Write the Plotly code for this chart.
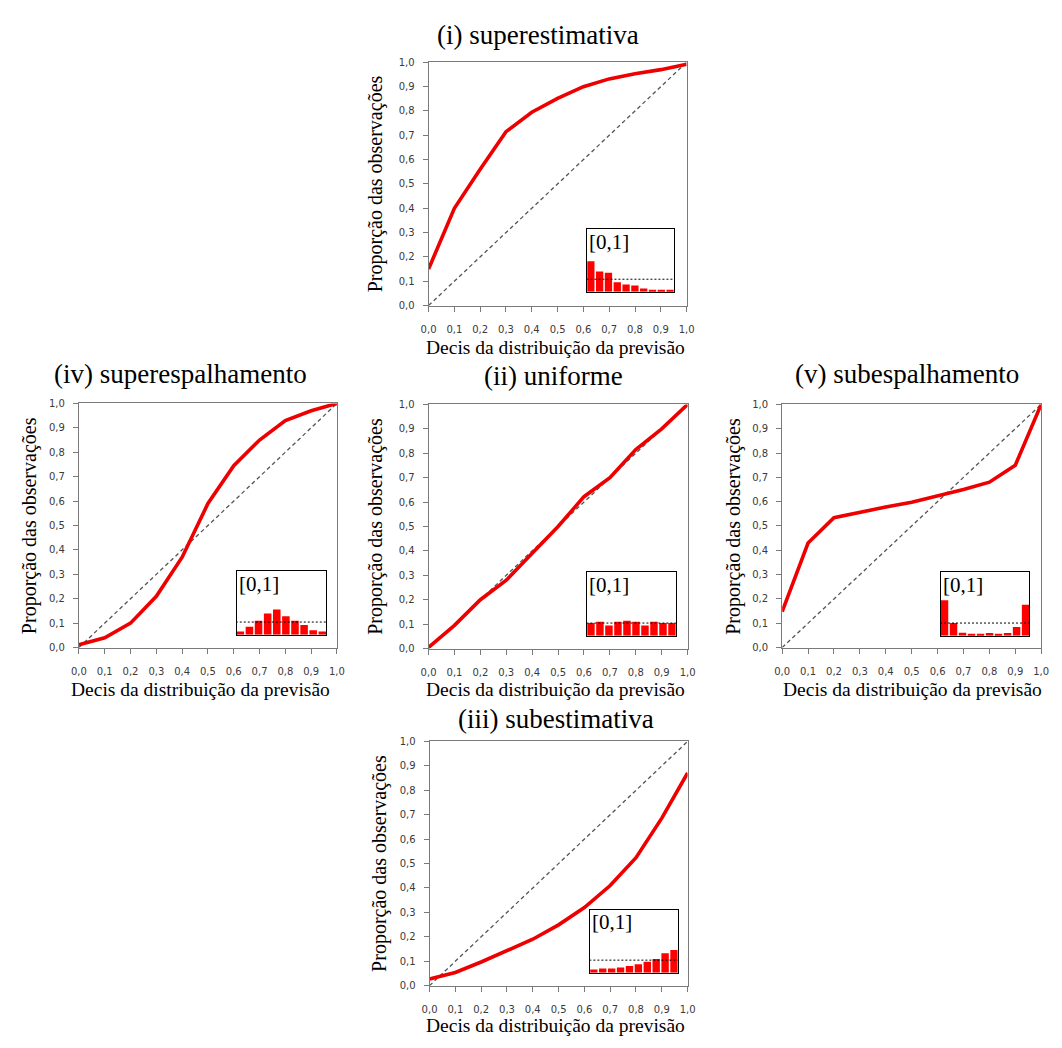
import plotly.graph_objects as go

W, H = 1062, 1048

# ---------------- data ----------------
deciles = [0.0, 0.1, 0.2, 0.3, 0.4, 0.5, 0.6, 0.7, 0.8, 0.9, 1.0]
bins = [1, 2, 3, 4, 5, 6, 7, 8, 9, 10]

panel_keys = ["i", "iv", "ii", "v", "iii"]
panel_titles = {
    "i": "(i) superestimativa",
    "iv": "(iv) superespalhamento",
    "ii": "(ii) uniforme",
    "v": "(v) subespalhamento",
    "iii": "(iii) subestimativa",
}

obs_i = [0.15, 0.40, 0.56, 0.715, 0.795, 0.852, 0.90, 0.932, 0.953, 0.97, 0.992]
obs_iv = [0.012, 0.04, 0.10, 0.21, 0.37, 0.59, 0.745, 0.85, 0.93, 0.97, 1.0]
obs_ii = [0.005, 0.095, 0.20, 0.28, 0.39, 0.50, 0.622, 0.70, 0.815, 0.90, 1.0]
obs_v = [0.148, 0.43, 0.534, 0.557, 0.578, 0.598, 0.624, 0.65, 0.68, 0.75, 1.0]
obs_iii = [0.027, 0.054, 0.097, 0.143, 0.19, 0.249, 0.32, 0.41, 0.524, 0.686, 0.871]

hist_i = [0.245, 0.163, 0.153, 0.076, 0.058, 0.05, 0.026, 0.016, 0.016, 0.016]
hist_iv = [0.025, 0.062, 0.11, 0.168, 0.20, 0.145, 0.11, 0.076, 0.035, 0.025]
hist_ii = [0.10, 0.11, 0.08, 0.11, 0.118, 0.11, 0.08, 0.11, 0.10, 0.10]
hist_v = [0.28, 0.10, 0.024, 0.015, 0.015, 0.022, 0.015, 0.022, 0.068, 0.245]
hist_iii = [0.026, 0.034, 0.034, 0.042, 0.053, 0.068, 0.087, 0.11, 0.155, 0.18]

inset_label = "[0,1]"
x_title = "Decis da distribuição da previsão"
y_title = "Proporção das observações"

obs = {"i": obs_i, "iv": obs_iv, "ii": obs_ii, "v": obs_v, "iii": obs_iii}
hist = {"i": hist_i, "iv": hist_iv, "ii": hist_ii, "v": hist_v, "iii": hist_iii}

# ---------------- layout geometry (pixels) ----------------
main_box = {
    "i": (427, 689, 57, 303),
    "iv": (72, 334, 402, 649),
    "ii": (427, 690, 403, 650),
    "v": (786, 1049, 403, 649),
    "iii": (428, 690, 744, 991),
}
inset_box = {
    "i": (588, 676, 226, 289),
    "iv": (232, 323, 572, 636),
    "ii": (588, 678, 573, 637),
    "v": (947, 1037, 573, 637),
    "iii": (591, 680, 914, 978),
}
title_pos = {"i": (538, 29), "iv": (175, 372), "ii": (554, 374), "v": (913, 372), "iii": (556, 721)}
xtitle_pos = {"i": (556, 345), "iv": (195, 691), "ii": (556, 691), "v": (918, 691), "iii": (556, 1031)}
ytitle_x = {"i": 374, "iv": 22, "ii": 373, "v": 737, "iii": 377}

SERIF = "Liberation Serif, Times New Roman, serif"
SANS = "DejaVu Sans, Verdana, sans-serif"
RED = "#ee0000"
AXC = "#7a7a7a"


def xd(x0, x1):
    return [x0 / W, x1 / W]


def yd(y0, y1):
    return [1 - y1 / H, 1 - y0 / H]


fig = go.Figure()
layout = {}
annotations = []

for i, k in enumerate(panel_keys):
    m = 2 * i + 1
    n = 2 * i + 2
    xa_m = "x" if m == 1 else f"x{m}"
    ya_m = "y" if m == 1 else f"y{m}"
    xa_n, ya_n = f"x{n}", f"y{n}"

    # diagonal reference
    fig.add_trace(go.Scatter(x=[deciles[0], deciles[-1]], y=[deciles[0], deciles[-1]],
                             mode="lines", xaxis=xa_m, yaxis=ya_m, showlegend=False,
                             line=dict(color="#555555", width=1.3, dash="4px,3px")))
    # observed curve
    fig.add_trace(go.Scatter(x=deciles, y=obs[k], mode="lines", xaxis=xa_m, yaxis=ya_m,
                             showlegend=False, line=dict(color=RED, width=3.6)))
    # inset histogram
    fig.add_trace(go.Bar(x=bins, y=hist[k], xaxis=xa_n, yaxis=ya_n, showlegend=False,
                         marker=dict(color="#ff0000", line=dict(width=0))))
    fig.add_trace(go.Scatter(x=[bins[0] - 0.5, bins[-1] + 0.5], y=[1 / len(bins)] * 2,
                             mode="lines", xaxis=xa_n, yaxis=ya_n, showlegend=False,
                             line=dict(color="#000000", width=1, dash="2px,2px")))

    x0, x1, y0, y1 = main_box[k]
    layout["xaxis" if m == 1 else f"xaxis{m}"] = dict(
        domain=xd(x0, x1), anchor=ya_m, range=[0, 1], tickvals=deciles, tickformat=".1f",
        showgrid=False, zeroline=False, showline=True, mirror=True, linecolor=AXC, linewidth=1,
        ticks="outside", ticklen=5, tickcolor=AXC, ticklabelstandoff=9,
        tickfont=dict(family=SANS, size=10, color="#3a3a3a"))
    layout["yaxis" if m == 1 else f"yaxis{m}"] = dict(
        domain=yd(y0, y1), anchor=xa_m, range=[0, 1], tickvals=deciles, tickformat=".1f",
        showgrid=False, zeroline=False, showline=True, mirror=True, linecolor=AXC, linewidth=1,
        ticks="outside", ticklen=5, tickcolor=AXC, ticklabelstandoff=6,
        tickfont=dict(family=SANS, size=10, color="#3a3a3a"))

    ix0, ix1, iy0, iy1 = inset_box[k]
    layout[f"xaxis{n}"] = dict(
        domain=xd(ix0, ix1), anchor=ya_n, range=[bins[0] - 0.42, bins[-1] + 0.42],
        showgrid=False, zeroline=False, showticklabels=False, ticks="",
        showline=True, mirror=True, linecolor="#000000", linewidth=1)
    layout[f"yaxis{n}"] = dict(
        domain=yd(iy0, iy1), anchor=xa_n, range=[0, 0.5],
        showgrid=False, zeroline=False, showticklabels=False, ticks="",
        showline=True, mirror=True, linecolor="#000000", linewidth=1)

    # inset label
    annotations.append(dict(text=inset_label, xref=f"x{n} domain", yref=f"y{n} domain",
                            x=0.0, y=1.02, xanchor="left", yanchor="top", showarrow=False,
                            font=dict(family=SERIF, size=21, color="#000000")))
    # panel title
    tx, ty = title_pos[k]
    annotations.append(dict(text=panel_titles[k], xref="paper", yref="paper", x=tx / W, y=1 - ty / H,
                            xanchor="center", yanchor="middle", showarrow=False,
                            font=dict(family=SERIF, size=27, color="#000000")))
    # x title
    ax, ay = xtitle_pos[k]
    annotations.append(dict(text=x_title, xref="paper", yref="paper", x=ax / W, y=1 - ay / H,
                            xanchor="center", yanchor="middle", showarrow=False,
                            font=dict(family=SERIF, size=19.5, color="#000000")))
    # y title
    annotations.append(dict(text=y_title, xref="paper", yref="paper", x=ytitle_x[k] / W,
                            y=1 - ((y0 + y1) / 2) / H, xanchor="center", yanchor="middle",
                            textangle=-90, showarrow=False,
                            font=dict(family=SERIF, size=20, color="#000000")))

fig.update_layout(
    width=W, height=H, margin=dict(l=0, r=0, t=0, b=0),
    paper_bgcolor="white", plot_bgcolor="white",
    separators=",.", bargap=0.17, showlegend=False,
    annotations=annotations, **layout)

fig.write_html("out.html", config={"displayModeBar": False},
               post_script="document.body.style.margin='0';")
